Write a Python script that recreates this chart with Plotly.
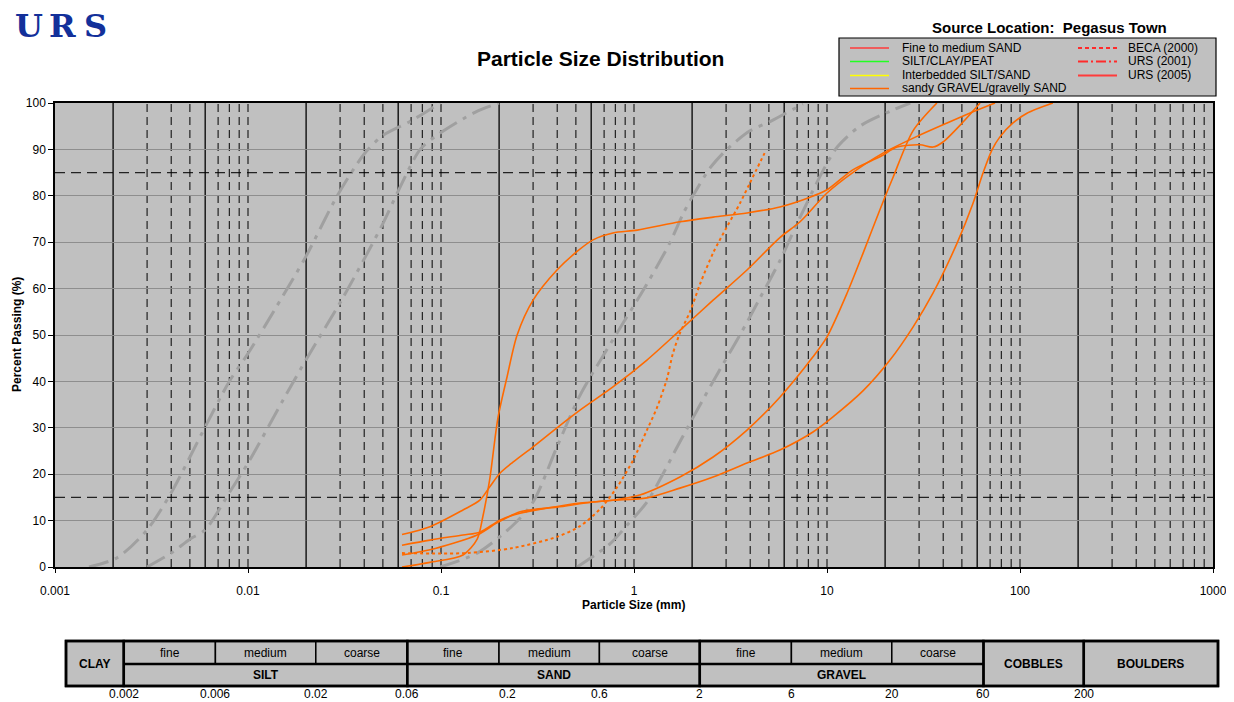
import numpy as np
import plotly.graph_objects as go

# page has an 8px body margin; the figure is sized to fill the rest of the 1234x702 window
OFF = 8
W, H = 1234 - OFF, 702 - OFF
FONT = "Liberation Sans, Arial, sans-serif"

# ---------------- data (particle size mm, percent passing) ----------------
grey_a_x = [0.0015, 0.0021, 0.003, 0.004, 0.0058, 0.008, 0.01, 0.014, 0.02, 0.029, 0.04, 0.05, 0.069, 0.099]
grey_a_y = [0, 2, 8, 16, 29, 40, 46, 56, 67, 80, 89, 93, 96, 100]

grey_b_x = [0.003, 0.004, 0.005, 0.006, 0.008, 0.0102, 0.0152, 0.0202, 0.031, 0.05, 0.06, 0.078, 0.095, 0.15, 0.2]
grey_b_y = [0, 3, 6, 8, 16, 23, 36, 45, 58, 74, 81, 90, 93, 98, 100]

grey_c_x = [0.099, 0.154, 0.236, 0.3, 0.4, 0.525, 0.778, 1.167, 1.54, 1.79, 2.02, 2.48, 3.03, 3.99, 5.07, 7.5]
grey_c_y = [0, 3, 9, 14, 26, 37, 49, 61, 70, 76, 80, 86, 90, 94, 96, 99.8]

grey_d_x = [0.507, 0.751, 0.92, 1.167, 1.41, 1.73, 2.57, 3.54, 4.5, 5.7, 7.0, 8.9, 10, 11.3, 14.8, 22, 27]
grey_d_y = [0, 5, 9, 14, 20, 27, 40, 50, 58, 66, 74, 83, 87, 90.5, 95, 98.5, 100]

or1_x = [0.0628, 0.0877, 0.130, 0.154, 0.165, 0.179, 0.197, 0.220, 0.248, 0.300, 0.399, 0.507, 0.613, 0.778,
         1.04, 1.73, 2.57, 3.85, 5.7, 8.17, 10, 13.6, 18.8, 23.1, 30.3, 35.4, 39.9, 50.7, 62.1]
or1_y = [0, 1, 2.6, 6, 11, 19, 32, 41, 50, 57.5, 64, 68, 70.5, 72,
         72.6, 74.4, 75.4, 76.3, 77.6, 79.7, 81.3, 85.6, 88.4, 90.5, 91, 90.5, 91.6, 95.9, 100]

or2_x = [0.0628, 0.0877, 0.130, 0.159, 0.179, 0.202, 0.236, 0.300, 0.399, 0.525, 0.778, 1.167, 1.73, 2.57,
         3.85, 5.7, 7.25, 10, 13.6, 19.5, 30.3, 41.9, 57.1, 74.2]
or2_y = [7, 8.7, 12.3, 14.4, 17.3, 20.2, 22.6, 25.9, 30, 33.8, 38.8, 44.6, 51, 57.5,
         64, 71, 74.4, 80.6, 85, 89.2, 93.1, 95.7, 98.1, 100]

or3_x = [0.0628, 0.0877, 0.130, 0.159, 0.202, 0.257, 0.354, 0.525, 0.778, 1.07, 1.73, 2.57, 3.85, 5.7,
         8.46, 10, 12.7, 15.4, 18.8, 22.0, 27.9, 37.1]
or3_y = [4.7, 5.8, 6.9, 7.5, 10.1, 11.6, 12.7, 13.8, 14.4, 15.5, 19.4, 23.7, 29.5, 36.6,
         45.3, 49.6, 59, 67.7, 77, 84, 94, 100]

or4_x = [0.0628, 0.0877, 0.154, 0.195, 0.257, 0.399, 0.613, 0.778, 1.167, 1.73, 2.57, 3.85, 5.7, 8.46,
         10.7, 15.4, 21.2, 27.9, 35.4, 47.2, 57.1, 64.3, 71.6, 78.7, 92.0, 108.7, 148]
or4_y = [2.6, 3.7, 6.9, 9.5, 11.9, 12.9, 14, 14.4, 14.9, 17, 19.4, 22.4, 25.2, 29.1,
         32.3, 38, 44.6, 51.7, 59, 69.8, 78.4, 84.9, 89.9, 92.7, 95.7, 97.8, 100]

beca_x = [0.0628, 0.136, 0.236, 0.399, 0.525, 0.667, 0.817, 0.988, 1.167, 1.32, 1.48, 1.59, 1.73, 1.95,
          2.20, 2.57, 3.03, 3.54, 3.99, 4.75]
beca_y = [3, 3, 4.1, 6.5, 8.8, 12.5, 17.2, 23, 29.5, 34.5, 40.5, 46, 50.4, 55,
          61, 67.7, 73.3, 78.4, 82.8, 89.2]

# tick labels
x_tick_vals = [0.001, 0.01, 0.1, 1, 10, 100, 1000]
x_tick_text = ["0.001", "0.01", "0.1", "1", "10", "100", "1000"]
y_tick_vals = list(range(0, 101, 10))

# soil classification table
boundaries = [0.002, 0.006, 0.02, 0.06, 0.2, 0.6, 2, 6, 20, 60, 200]
boundary_labels = ["0.002", "0.006", "0.02", "0.06", "0.2", "0.6", "2", "6", "20", "60", "200"]
main_groups = [("SILT", 0.002, 0.06), ("SAND", 0.06, 2), ("GRAVEL", 2, 60)]
sub_names = ["fine", "medium", "coarse"]
single_cells = [("CLAY", 0.001, 0.002), ("COBBLES", 60, 200), ("BOULDERS", 200, 1000)]

legend_left = [("Fine to medium SAND", "#FF3B3B", "solid"),
               ("SILT/CLAY/PEAT", "#22FF22", "solid"),
               ("Interbedded SILT/SAND", "#FFFF00", "solid"),
               ("sandy GRAVEL/gravelly SAND", "#FF6600", "solid")]
legend_right = [("BECA (2000)", "#FF2A2A", "4px,3px"),
                ("URS (2001)", "#FF2A2A", "10px,3px,2px,3px"),
                ("URS (2005)", "#FF3B3B", "solid")]


# ---------------- helpers: window pixel -> paper fraction ----------------
def px(x):
    return (x - OFF) / W


def py(y):
    return 1 - (y - OFF) / H


def note(x, y, text, size=12, xanchor="center", yanchor="middle", family=FONT, color="black", angle=0):
    return dict(x=x, y=y, xref="paper", yref="paper", text=text, showarrow=False,
                xanchor=xanchor, yanchor=yanchor, textangle=angle,
                font=dict(family=family, size=size, color=color))


fig = go.Figure()

GREY = "#A0A0A0"
ORANGE = "#FF6A00"
for gx, gy in [(grey_a_x, grey_a_y), (grey_b_x, grey_b_y), (grey_c_x, grey_c_y), (grey_d_x, grey_d_y)]:
    fig.add_trace(go.Scatter(x=gx, y=gy, mode="lines",
                             line=dict(color=GREY, width=3, dash="20px,7px,4px,7px", shape="spline", smoothing=0.8),
                             showlegend=False, hoverinfo="skip"))

for ox, oy in [(or1_x, or1_y), (or2_x, or2_y), (or3_x, or3_y), (or4_x, or4_y)]:
    fig.add_trace(go.Scatter(x=ox, y=oy, mode="lines",
                             line=dict(color=ORANGE, width=1.6, shape="spline", smoothing=0.8),
                             showlegend=False, hoverinfo="skip"))

fig.add_trace(go.Scatter(x=beca_x, y=beca_y, mode="lines",
                         line=dict(color=ORANGE, width=2, dash="dot", shape="spline", smoothing=0.8),
                         showlegend=False, hoverinfo="skip"))

shapes = []
# vertical grid lines: solid at the soil-class boundaries, dashed elsewhere
for d in range(-3, 3):
    for m in range(1, 10):
        v = m * 10.0 ** d
        if v <= 0.001 * 1.0001:
            continue
        solid = any(abs(v - b) / b < 1e-6 for b in boundaries)
        shapes.append(dict(type="line", xref="x", yref="y", x0=v, x1=v, y0=0, y1=100,
                           line=dict(color="black", width=1.3 if solid else 1,
                                     dash="solid" if solid else "8px,5px"),
                           layer="below"))
# horizontal dashed at 15 and 85
for hv in (15, 85):
    shapes.append(dict(type="line", xref="paper", yref="y", x0=px(55), x1=px(1213), y0=hv, y1=hv,
                       line=dict(color="#222222", width=1.2, dash="10px,6px"), layer="below"))

annotations = []

# ---------------- table (paper coords via a log mapping of its own) ----------------
T_X0, T_X1 = 66, 1218          # window px of table ends (0.001 .. 1000 mm)
T_Y0, T_YM, T_Y1 = 641, 664, 686


def tx(v):
    return px(T_X0 + (np.log10(v) + 3) / 6 * (T_X1 - T_X0))


LW_THIN = 1.5
LW_THICK = 2.5
fill = "#C0C0C0"
for name, a, b in single_cells:
    shapes.append(dict(type="rect", xref="paper", yref="paper", x0=tx(a), x1=tx(b), y0=py(T_Y1), y1=py(T_Y0),
                       fillcolor=fill, line=dict(color="black", width=LW_THICK)))
    annotations.append(note((tx(a) + tx(b)) / 2, py((T_Y0 + T_Y1) / 2), "<b>%s</b>" % name))
for name, a, b in main_groups:
    subs = [a, a * 3, a * 10, b]
    for i, sn in enumerate(sub_names):
        s0, s1 = tx(subs[i]), tx(subs[i + 1])
        shapes.append(dict(type="rect", xref="paper", yref="paper", x0=s0, x1=s1, y0=py(T_YM), y1=py(T_Y0),
                           fillcolor=fill, line=dict(color="black", width=LW_THIN)))
        annotations.append(note((s0 + s1) / 2, py((T_Y0 + T_YM) / 2), sn))
    shapes.append(dict(type="rect", xref="paper", yref="paper", x0=tx(a), x1=tx(b), y0=py(T_Y1), y1=py(T_YM),
                       fillcolor=fill, line=dict(color="black", width=LW_THIN)))
    annotations.append(note((tx(a) + tx(b)) / 2, py((T_YM + T_Y1) / 2), "<b>%s</b>" % name))
    shapes.append(dict(type="rect", xref="paper", yref="paper", x0=tx(a), x1=tx(b), y0=py(T_Y1), y1=py(T_Y0),
                       line=dict(color="black", width=LW_THICK)))
    shapes.append(dict(type="line", xref="paper", yref="paper", x0=tx(a), x1=tx(b), y0=py(T_YM), y1=py(T_YM),
                       line=dict(color="black", width=LW_THICK)))
shapes.append(dict(type="rect", xref="paper", yref="paper", x0=tx(0.001), x1=tx(1000), y0=py(T_Y1), y1=py(T_Y0),
                   line=dict(color="black", width=LW_THICK)))
for bv, bl in zip(boundaries, boundary_labels):
    annotations.append(note(tx(bv), py(694), bl))

# ---------------- legend box ----------------
shapes.append(dict(type="rect", xref="paper", yref="paper", x0=px(839), x1=px(1216), y0=py(96), y1=py(38),
                   fillcolor="#C0C0C0", line=dict(color="black", width=1.2)))
rows = [48, 61.5, 75.5, 88.5]
for (txt, col, dsh), ry in zip(legend_left, rows):
    shapes.append(dict(type="line", xref="paper", yref="paper", x0=px(850), x1=px(889), y0=py(ry), y1=py(ry),
                       line=dict(color=col, width=1.5, dash=dsh)))
    annotations.append(note(px(900), py(ry), txt, xanchor="left"))
for (txt, col, dsh), ry in zip(legend_right, rows):
    shapes.append(dict(type="line", xref="paper", yref="paper", x0=px(1078), x1=px(1117), y0=py(ry), y1=py(ry),
                       line=dict(color=col, width=1.8, dash=dsh)))
    annotations.append(note(px(1126), py(ry), txt, xanchor="left"))

annotations.append(note(px(1049), py(28), "<b>Source Location:  Pegasus Town</b>", size=15))
annotations.append(note(px(600), py(59), "<b>Particle Size Distribution</b>", size=21))
annotations.append(note(px(634), py(605), "<b>Particle Size (mm)</b>"))
annotations.append(note(px(17), py(335), "<b>Percent Passing (%)</b>", angle=-90))
# URS logo, letters spread to match the wide logotype
for letter, lx in zip("URS", [29, 62, 95]):
    annotations.append(note(px(lx), py(26), "<b>%s</b>" % letter, size=32, family="DejaVu Serif",
                            color="#13309A"))

fig.update_layout(
    template="none",
    width=W, height=H,
    margin=dict(l=0, r=0, t=0, b=0, autoexpand=False),
    paper_bgcolor="white",
    plot_bgcolor="#C0C0C0",
    showlegend=False,
    xaxis=dict(type="log", range=[-3, 3], domain=[px(55), px(1213)], automargin=False,
               tickvals=x_tick_vals, ticktext=x_tick_text, ticks="outside", ticklen=4, tickcolor="black",
               ticklabelstandoff=8,
               showgrid=False, zeroline=False, showline=True, linecolor="black", linewidth=1.5, mirror=True,
               tickfont=dict(family=FONT, size=12, color="black"), anchor="y"),
    yaxis=dict(range=[0, 100], domain=[py(567), py(103)], tickvals=y_tick_vals, ticks="outside", ticklen=5,
               automargin=False,
               tickcolor="black", showgrid=True, gridcolor="#8E8E8E", gridwidth=1, zeroline=False,
               showline=True, linecolor="black", linewidth=1.5, mirror=True,
               tickfont=dict(family=FONT, size=12, color="black"), anchor="x"),
    shapes=shapes,
    annotations=annotations,
)

fig.write_html("out.html")
